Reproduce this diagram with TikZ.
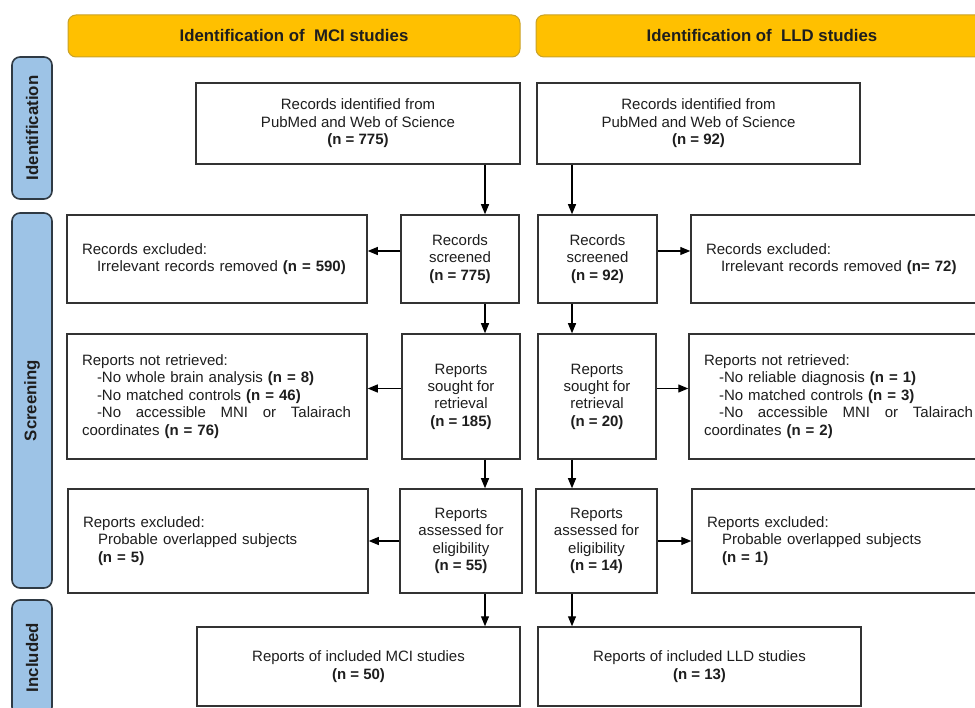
\documentclass[tikz,border=0pt]{standalone}
\usepackage{fontspec}
\setmainfont{Liberation Sans}
\usepackage{tikz}
\usetikzlibrary{arrows.meta,positioning,calc}
\definecolor{gold}{HTML}{FFC000}
\definecolor{goldline}{HTML}{C9A227}
\definecolor{sky}{HTML}{9DC3E6}
\definecolor{barline}{HTML}{2F3A44}
\definecolor{boxline}{HTML}{333333}
\definecolor{ink}{HTML}{1E1E1E}
\newcommand{\bodyfont}{\fontsize{15}{17.4}\selectfont}
\newcommand{\headfont}{\fontsize{16.8}{19}\selectfont\bfseries}
\newcommand{\ind}{\hspace*{15pt}}

\begin{document}
\begin{tikzpicture}[x=1pt,y=-1pt,>={Triangle[length=10pt,width=8pt]},
  every node/.style={text=ink},
  header/.style={draw=goldline,line width=1pt,fill=gold,rounded corners=8pt,
    minimum width=452pt,minimum height=42pt,inner sep=0pt,font=\headfont},
  phase/.style={draw=barline,line width=1.6pt,fill=sky,rounded corners=8pt,
    minimum width=40pt,inner sep=0pt,font=\headfont},
  box/.style={draw=boxline,line width=1.5pt,fill=white,inner sep=0pt,
    align=center,font=\bodyfont},
  sidebox/.style={box,align=left,text width=270pt,inner xsep=15pt,
    minimum width=300pt},
  arr/.style={->,line width=1.2pt,draw=black}]
\useasboundingbox (0,0) rectangle (975,708);
\clip (0,0) rectangle (975,708);

% column headers
\node[header] (hmci) at (294,36) {Identification of\ \ MCI studies};
\node[header] (hlld) at (762,36) {Identification of\ \ LLD studies};

% phase bars
\node[phase,minimum height=142pt] (pid) at (32,128) {};
\node[rotate=90,font=\headfont] at (pid) {Identification};
\node[phase,minimum height=375pt] (pscr) at (32,400.5) {};
\node[rotate=90,font=\headfont] at (pscr) {Screening};
\node[phase,minimum height=115pt] (pinc) at (32,657.5) {};
\node[rotate=90,font=\headfont] at (pinc) {Included};

% identification
\node[box,minimum width=324pt,minimum height=81pt] (mciid) at (358,123.5)
  {Records identified from\\PubMed and Web of Science\\\textbf{(n = 775)}};
\node[box,minimum width=323pt,minimum height=81pt] (lldid) at (698.5,123.5)
  {Records identified from\\PubMed and Web of Science\\\textbf{(n = 92)}};

% screening: records
\node[box,minimum width=118pt,minimum height=88pt] (mciscr) at (460,259)
  {Records\\screened\\\textbf{(n = 775)}};
\node[box,minimum width=119pt,minimum height=88pt] (lldscr) at (597.5,259)
  {Records\\screened\\\textbf{(n = 92)}};
\node[sidebox,minimum height=88pt] (mcixr) at (217,259)
  {Records excluded:\\\ind Irrelevant records removed \textbf{(n = 590)}};
\node[sidebox,minimum height=88pt] (lldxr) at (841,259)
  {Records excluded:\\\ind Irrelevant records removed \textbf{(n= 72)}};

% screening: retrieval
\node[box,minimum width=118pt,minimum height=125pt] (mcisgt) at (461,396.5)
  {Reports\\sought for\\retrieval\\\textbf{(n = 185)}};
\node[box,minimum width=118pt,minimum height=125pt] (lldsgt) at (597,396.5)
  {Reports\\sought for\\retrieval\\\textbf{(n = 20)}};
\node[sidebox,minimum height=125pt] (mcinr) at (217,396.5)
  {Reports not retrieved:\\
   \ind -No whole brain analysis \textbf{(n = 8)}\\
   \ind -No matched controls \textbf{(n = 46)}\\
   \ind\makebox[254pt][s]{-No\hfill accessible\hfill MNI\hfill or\hfill Talairach}\\
   coordinates \textbf{(n = 76)}};
\node[sidebox,minimum height=125pt] (lldnr) at (839,396.5)
  {Reports not retrieved:\\
   \ind -No reliable diagnosis \textbf{(n = 1)}\\
   \ind -No matched controls \textbf{(n = 3)}\\
   \ind\makebox[254pt][s]{-No\hfill accessible\hfill MNI\hfill or\hfill Talairach}\\
   coordinates \textbf{(n = 2)}};

% screening: eligibility
\node[box,minimum width=122pt,minimum height=104pt] (mciel) at (461,541)
  {Reports\\assessed for\\eligibility\\\textbf{(n = 55)}};
\node[box,minimum width=121pt,minimum height=104pt] (lldel) at (596.5,541)
  {Reports\\assessed for\\eligibility\\\textbf{(n = 14)}};
\node[sidebox,minimum height=104pt] (mcixe) at (218,541)
  {Reports excluded:\\\ind Probable overlapped subjects\\\ind\textbf{(n = 5)}};
\node[sidebox,minimum height=104pt] (lldxe) at (842,541)
  {Reports excluded:\\\ind Probable overlapped subjects\\\ind\textbf{(n = 1)}};

% included
\node[box,minimum width=323pt,minimum height=79pt] (mciinc) at (358.5,666.5)
  {Reports of included MCI studies\\\textbf{(n = 50)}};
\node[box,minimum width=323pt,minimum height=79pt] (lldinc) at (699.5,666.5)
  {Reports of included LLD studies\\\textbf{(n = 13)}};

% flow arrows
\coordinate (mcol) at (485,0);
\coordinate (lcol) at (572,0);
\draw[arr] (mciid.south -| mcol) -- (mciscr.north -| mcol);
\draw[arr] (mciscr.south -| mcol) -- (mcisgt.north -| mcol);
\draw[arr] (mcisgt.south -| mcol) -- (mciel.north -| mcol);
\draw[arr] (mciel.south -| mcol) -- (mciinc.north -| mcol);
\draw[arr] (lldid.south -| lcol) -- (lldscr.north -| lcol);
\draw[arr] (lldscr.south -| lcol) -- (lldsgt.north -| lcol);
\draw[arr] (lldsgt.south -| lcol) -- (lldel.north -| lcol);
\draw[arr] (lldel.south -| lcol) -- (lldinc.north -| lcol);
\draw[arr] ([yshift=8pt]mciscr.west) -- ([yshift=8pt]mciscr.west -| mcixr.east);
\draw[arr] ([yshift=8pt]lldscr.east) -- ([yshift=8pt]lldscr.east -| lldxr.west);
\draw[arr] ([yshift=8pt]mcisgt.west) -- ([yshift=8pt]mcisgt.west -| mcinr.east);
\draw[arr] ([yshift=8pt]lldsgt.east) -- ([yshift=8pt]lldsgt.east -| lldnr.west);
\draw[arr] (mciel.west) -- (mciel.west -| mcixe.east);
\draw[arr] (lldel.east) -- (lldel.east -| lldxe.west);
\end{tikzpicture}
\end{document}
